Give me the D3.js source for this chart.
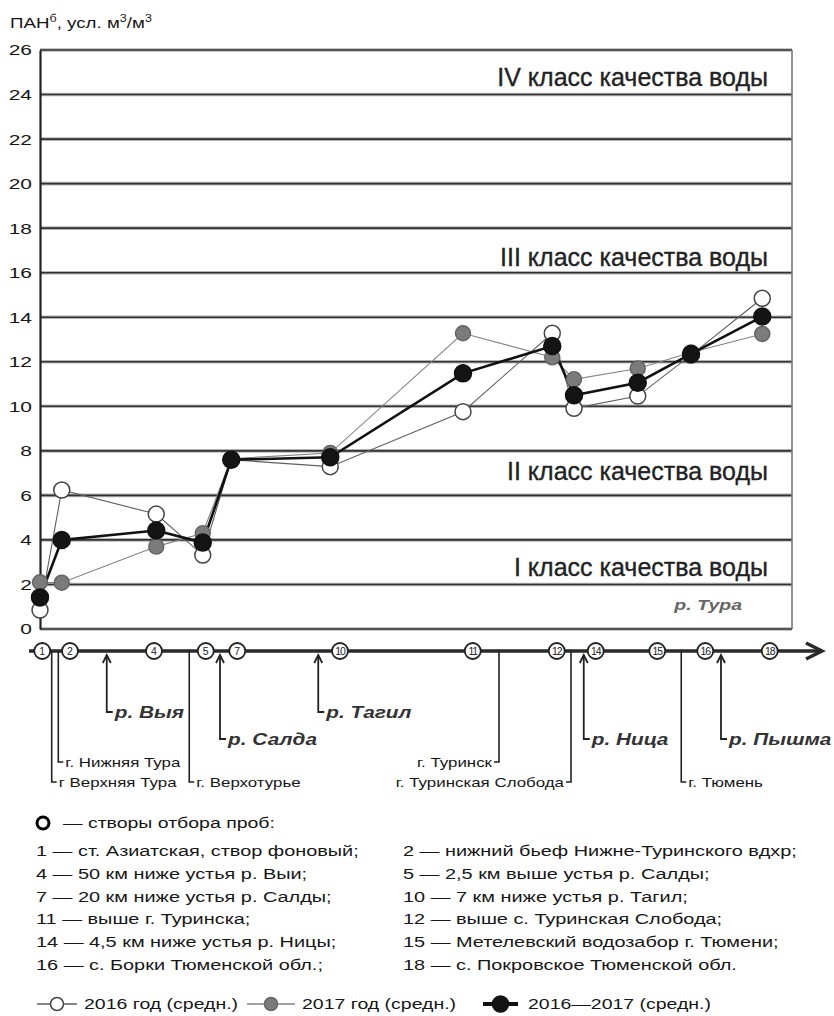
<!DOCTYPE html>
<html>
<head>
<meta charset="utf-8">
<script src="https://cdn.jsdelivr.net/npm/d3@7"></script>
<style>
  body { margin: 0; background: #fff; }
  svg { display: block; font-family: "Liberation Sans", Arial, sans-serif; }
</style>
</head>
<body>
<svg id="chart"></svg>
<script>
const width = 834;
const height = 1016;
const SX = 1.3; // the scanned figure is stretched sideways, so is its text

// sampling sites, in river order
const stations = ["1", "2", "4", "5", "7", "10", "11", "12", "14", "15", "16", "18"];
// place of each site along the river (conventional units 0..100) on the chart
const stationPos = [0, 2.9, 15.5, 21.7, 25.5, 38.7, 56.4, 68.3, 71.2, 79.7, 86.8, 96.3];
// the same sites on the river scheme under the chart
const schemePos = [0.3, 4.0, 15.2, 22.1, 26.3, 40.0, 57.7, 68.9, 74.1, 82.3, 88.7, 97.3];

// ПАНб, conventional m3/m3
const pan2016 = [0.85, 6.24, 5.16, 3.32, 7.6, 7.29, 9.76, 13.28, 9.91, 10.46, 12.3, 14.85];
const pan2017 = [2.1, 2.08, 3.7, 4.3, 7.65, 7.9, 13.28, 12.2, 11.21, 11.7, 12.42, 13.25];
const panAvg = [1.42, 4.0, 4.42, 3.88, 7.6, 7.71, 11.48, 12.71, 10.5, 11.06, 12.35, 14.03];

const yTicks = [0, 2, 4, 6, 8, 10, 12, 14, 16, 18, 20, 22, 24, 26];

const classNames = ["I класс качества воды", "II класс качества воды", "III класс качества воды", "IV класс качества воды"];
const classLevel = [2.4, 6.7, 16.3, 24.4];

// tributaries and towns on the scheme
const tributaries = ["р. Выя", "р. Салда", "р. Тагил", "р. Ница", "р. Пышма"];
const tributaryPos = [8.9, 24.0, 37.1, 72.5, 90.8];
const tributaryRow = [0, 1, 0, 1, 1];

const towns = ["г Верхняя Тура", "г. Нижняя Тура", "г. Верхотурье", "г. Туринск", "г. Туринская Слобода", "г. Тюмень"];
const townPos = [1.56, 2.44, 19.9, 61.2, 70.8, 85.5];
const townRow = [1, 0, 1, 0, 1, 1];
const townSide = ["right", "right", "right", "left", "left", "right"];

const siteNotes = [
  "1 — ст. Азиатская, створ фоновый;", "2 — нижний бьеф Нижне-Туринского вдхр;",
  "4 — 50 км ниже устья р. Выи;", "5 — 2,5 км выше устья р. Салды;",
  "7 — 20 км ниже устья р. Салды;", "10 — 7 км ниже устья р. Тагил;",
  "11 — выше г. Туринска;", "12 — выше с. Туринская Слобода;",
  "14 — 4,5 км ниже устья р. Ницы;", "15 — Метелевский водозабор г. Тюмени;",
  "16 — с. Борки Тюменской обл.;", "18 — с. Покровское Тюменской обл."
];
const seriesNames = ["2016 год (средн.)", "2017 год (средн.)", "2016—2017 (средн.)"];

const svg = d3.select("#chart").attr("width", width).attr("height", height);

function label(g, x, y, str, o = {}) {
  const t = g.append("text")
    .attr("transform", `translate(${x},${y}) scale(${o.sx ?? SX},1)`)
    .attr("font-size", o.size || 15)
    .attr("fill", o.fill || "#161616")
    .attr("text-anchor", o.anchor || "start")
    .text(str);
  if (o.bold) t.attr("font-weight", "bold");
  if (o.italic) t.attr("font-style", "italic");
  return t;
}

const x = d3.scaleLinear().domain([0, 100]).range([40, 790]);
const y = d3.scaleLinear().domain([0, 26]).range([629, 50]);
const left = x(0), right = 792;

// y title
const title = svg.append("text")
  .attr("transform", `translate(10,28) scale(1.25,1)`)
  .attr("font-size", 15)
  .attr("fill", "#161616");
title.append("tspan").text("ПАН");
title.append("tspan").attr("font-size", 10).attr("dy", -6).text("б");
title.append("tspan").attr("dy", 6).text(", усл. м");
title.append("tspan").attr("font-size", 10).attr("dy", -6).text("3");
title.append("tspan").attr("dy", 6).text("/м");
title.append("tspan").attr("font-size", 10).attr("dy", -6).text("3");

// horizontal grid
const grid = svg.append("g");
grid.selectAll(".halo")
  .data(yTicks)
  .enter()
  .append("line")
  .attr("x1", left).attr("x2", right)
  .attr("y1", d => y(d)).attr("y2", d => y(d))
  .attr("stroke", "#b5b5b5")
  .attr("stroke-width", 3.6);
grid.selectAll(".core")
  .data(yTicks)
  .enter()
  .append("line")
  .attr("x1", left).attr("x2", right)
  .attr("y1", d => y(d)).attr("y2", d => y(d))
  .attr("stroke", "#333")
  .attr("stroke-width", 1.6);
grid.append("line")
  .attr("x1", right).attr("x2", right)
  .attr("y1", y(26)).attr("y2", y(0))
  .attr("stroke", "#777")
  .attr("stroke-width", 1.6);

// y axis
const yAxis = svg.append("g")
  .attr("transform", `translate(${left},0)`)
  .call(d3.axisLeft(y).tickValues(yTicks).tickSize(0).tickSizeOuter(0).tickFormat(d3.format("d")));
yAxis.select(".domain").attr("stroke", "#222").attr("stroke-width", 2.2);
yAxis.selectAll("text")
  .attr("font-size", 15.5)
  .attr("font-family", "Liberation Sans, Arial, sans-serif")
  .attr("fill", "#161616")
  .attr("x", -8 / 1.35)
  .attr("transform", "scale(1.35,1)");

// water quality classes
svg.append("g")
  .selectAll("text")
  .data(classNames)
  .enter()
  .append("text")
  .attr("transform", (d, i) => `translate(768,${y(classLevel[i])})`)
  .attr("text-anchor", "end")
  .attr("font-size", 25)
  .attr("fill", "#222")
  .attr("stroke", "#222")
  .attr("stroke-width", 0.35)
  .text(d => d);

label(svg, 742, y(0.85), "р. Тура", { size: 15, bold: true, italic: true, anchor: "end", fill: "#666" });

// series
const series = [
  { values: pan2016, line: "#5e5e5e", lw: 1.1, fill: "#fff", stroke: "#444", r: 8 },
  { values: pan2017, line: "#838383", lw: 1.1, fill: "#7b7b7b", stroke: "#666", r: 7.5 },
  { values: panAvg, line: "#111", lw: 2.6, fill: "#141414", stroke: "#111", r: 8.5 }
];
const line = d3.line()
  .x((d, i) => x(stationPos[i]))
  .y(d => y(d));

svg.append("g")
  .selectAll("path")
  .data(series)
  .enter()
  .append("path")
  .attr("d", s => line(s.values))
  .attr("fill", "none")
  .attr("stroke", s => s.line)
  .attr("stroke-width", s => s.lw);

series.forEach(s => {
  svg.append("g")
    .selectAll("circle")
    .data(s.values)
    .enter()
    .append("circle")
    .attr("cx", (d, i) => x(stationPos[i]))
    .attr("cy", d => y(d))
    .attr("r", s.r)
    .attr("fill", s.fill)
    .attr("stroke", s.stroke)
    .attr("stroke-width", 1.5);
});

// river scheme
const riverY = 651;
const scheme = svg.append("g");
scheme.append("line")
  .attr("x1", 29).attr("x2", 822)
  .attr("y1", riverY).attr("y2", riverY)
  .attr("stroke", "#2a2a2a")
  .attr("stroke-width", 3.5);
scheme.append("path")
  .attr("d", `M806,${riverY - 8}L822,${riverY}L806,${riverY + 8}`)
  .attr("fill", "none")
  .attr("stroke", "#2a2a2a")
  .attr("stroke-width", 3.5);

const tribDepth = [712, 739];
tributaries.forEach((name, i) => {
  const tx = x(tributaryPos[i]);
  const ty = tribDepth[tributaryRow[i]];
  scheme.append("path")
    .attr("d", `M${tx},${riverY + 4}V${ty}H${tx + 6}`)
    .attr("fill", "none")
    .attr("stroke", "#222")
    .attr("stroke-width", 1.8);
  scheme.append("path")
    .attr("d", `M${tx - 4},${riverY + 12}L${tx},${riverY + 4}L${tx + 4},${riverY + 12}`)
    .attr("fill", "none")
    .attr("stroke", "#222")
    .attr("stroke-width", 1.8);
  label(scheme, tx + 8, ty + 6, name, { size: 16, bold: true, italic: true, fill: "#333" });
});

const townDepth = [762, 782];
towns.forEach((name, i) => {
  const tx = x(townPos[i]);
  const ty = townDepth[townRow[i]];
  const dir = townSide[i] === "right" ? 1 : -1;
  scheme.append("path")
    .attr("d", `M${tx},${riverY}V${ty}H${tx + dir * 5}`)
    .attr("fill", "none")
    .attr("stroke", "#222")
    .attr("stroke-width", 1.6);
  label(scheme, tx + dir * 7, ty + 5, name, { size: 13, anchor: dir > 0 ? "start" : "end" });
});

const nodes = scheme.selectAll(".node")
  .data(stations)
  .enter()
  .append("g")
  .attr("transform", (d, i) => `translate(${x(schemePos[i])},${riverY})`);
nodes.append("circle")
  .attr("r", 8)
  .attr("fill", "#fff")
  .attr("stroke", "#222")
  .attr("stroke-width", 1.8);
nodes.append("text")
  .attr("text-anchor", "middle")
  .attr("y", 3.8)
  .attr("font-size", 10.5)
  .attr("letter-spacing", d => d.length > 1 ? -1.2 : 0)
  .attr("fill", "#222")
  .text(d => d);

// notes
const notes = svg.append("g");
notes.append("circle")
  .attr("cx", 43).attr("cy", 823)
  .attr("r", 6)
  .attr("fill", "#fff")
  .attr("stroke", "#000")
  .attr("stroke-width", 3);
label(notes, 63, 828, "— створы отбора проб:");

notes.selectAll(".note")
  .data(siteNotes)
  .enter()
  .append("text")
  .attr("transform", (d, i) => `translate(${i % 2 ? 403 : 36},${856 + Math.floor(i / 2) * 22.8}) scale(1.3,1)`)
  .attr("font-size", 15.3)
  .attr("fill", "#161616")
  .text(d => d);

// series legend
const legendY = 1004;
const legend = svg.append("g");
const keyAt = [[37, 77], [247, 295], [483, 518]];
series.forEach((s, i) => {
  const [a, b] = keyAt[i];
  legend.append("line")
    .attr("x1", a).attr("x2", b)
    .attr("y1", legendY).attr("y2", legendY)
    .attr("stroke", s.line)
    .attr("stroke-width", i === 2 ? 4 : 1.3);
  legend.append("circle")
    .attr("cx", (a + b) / 2).attr("cy", legendY)
    .attr("r", i === 2 ? 8 : 6.5)
    .attr("fill", s.fill)
    .attr("stroke", s.stroke)
    .attr("stroke-width", 1.5);
  label(legend, b + (i === 2 ? 10 : 7), legendY + 5, seriesNames[i]);
});
</script>
</body>
</html>
